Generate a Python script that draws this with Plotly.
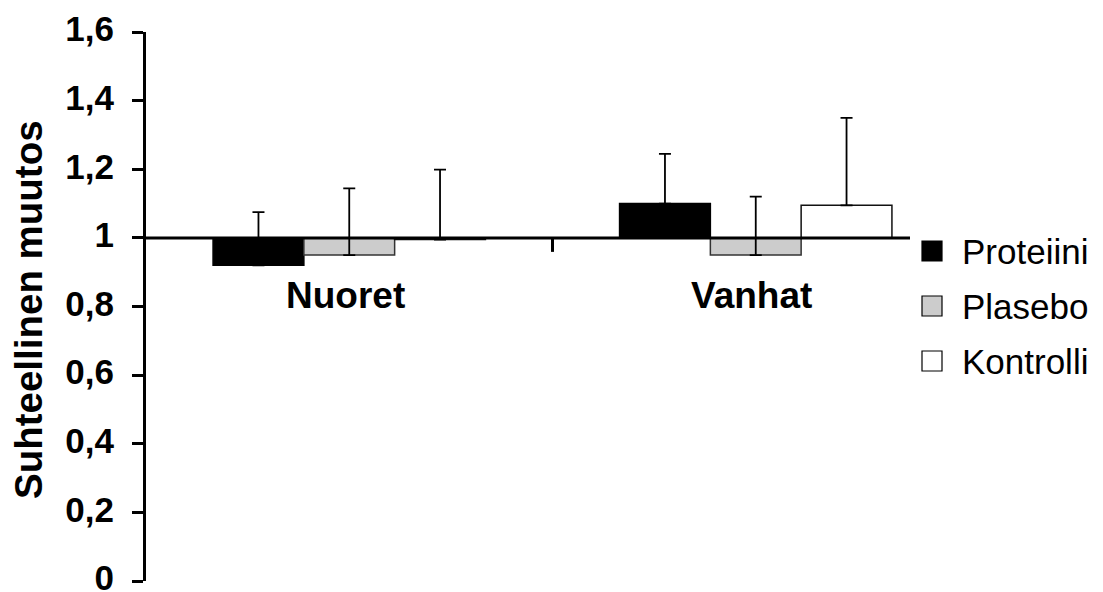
import plotly.graph_objects as go

categories = ["Nuoret", "Vanhat"]
series_names = ["Proteiini", "Plasebo", "Kontrolli"]
values = {
    "Proteiini": [0.92, 1.10],
    "Plasebo": [0.95, 0.95],
    "Kontrolli": [0.995, 1.095],
}
errors_plus = {
    "Proteiini": [0.155, 0.145],
    "Plasebo": [0.194, 0.17],
    "Kontrolli": [0.204, 0.255],
}
fill_colors = {"Proteiini": "#000000", "Plasebo": "#CCCCCC", "Kontrolli": "#FFFFFF"}
line_colors = {"Proteiini": "#000000", "Plasebo": "#333333", "Kontrolli": "#111111"}
y_tickvals = [0, 0.2, 0.4, 0.6, 0.8, 1.0, 1.2, 1.4, 1.6]
y_ticktext = ["0", "0,2", "0,4", "0,6", "0,8", "1", "1,2", "1,4", "1,6"]
baseline = 1.0

W, H = 1103, 592
ML, MR, MT, MB = 146, 144, 32, 11
PW, PH = W - ML - MR, H - MT - MB

def px_x(px):
    return (px - ML) / PW

def px_y(py):
    return (H - MB - py) / PH

FONT = "Liberation Sans, Arial, sans-serif"

fig = go.Figure()
for name in series_names:
    fig.add_trace(go.Bar(
        x=categories,
        y=[v - baseline for v in values[name]],
        base=[baseline] * len(categories),
        name=name,
        marker=dict(color=fill_colors[name], line=dict(color=line_colors[name], width=1.5)),
        error_y=dict(type="data", symmetric=False, array=errors_plus[name],
                     arrayminus=[0] * len(categories),
                     color="black", thickness=1.8, width=6),
        showlegend=False,
    ))

shapes = []
# horizontal axis line at y = 1
shapes.append(dict(type="line", xref="paper", yref="y", x0=0, x1=px_x(910), y0=baseline, y1=baseline,
                   line=dict(color="black", width=3), layer="above"))
# category divider tick
shapes.append(dict(type="line", xref="x", yref="y", ysizemode="pixel", yanchor=baseline,
                   x0=0.5, x1=0.5, y0=0, y1=-14, line=dict(color="black", width=3), layer="above"))

annotations = []
for cat in categories:
    annotations.append(dict(x=cat, y=baseline, xref="x", yref="y", text="<b>%s</b>" % cat,
                            showarrow=False, yanchor="middle", yshift=-58, xshift=-4,
                            font=dict(family=FONT, size=37, color="black")))
annotations.append(dict(x=px_x(28), y=px_y(310), xref="paper", yref="paper",
                        text="<b>Suhteellinen muutos</b>", textangle=-90, showarrow=False,
                        xanchor="center", yanchor="middle",
                        font=dict(family=FONT, size=38.5, color="black")))

# legend (manual, to match large symbol squares)
legend_rows = [251, 306, 361]
for name, cy in zip(series_names, legend_rows):
    shapes.append(dict(type="rect", xref="paper", yref="paper",
                       x0=px_x(922), x1=px_x(942), y0=px_y(cy + 10), y1=px_y(cy - 10),
                       fillcolor=fill_colors[name], line=dict(color="black", width=1.2)))
    annotations.append(dict(x=px_x(960), y=px_y(cy), xref="paper", yref="paper", text=name,
                            showarrow=False, xanchor="left", yanchor="middle",
                            font=dict(family=FONT, size=35, color="black")))

fig.update_layout(
    width=W, height=H,
    margin=dict(l=ML, r=MR, t=MT, b=MB, pad=0, autoexpand=False),
    plot_bgcolor="white", paper_bgcolor="white",
    barmode="group", bargap=0.33, bargroupgap=0,
    showlegend=False,
    xaxis=dict(range=[-0.5, 1.5], showticklabels=False, showline=False, ticks="",
               showgrid=False, zeroline=False, automargin=False),
    yaxis=dict(range=[0, 1.6], tickmode="array", tickvals=y_tickvals, ticktext=y_ticktext,
               showline=True, linecolor="black", linewidth=3, ticks="outside", ticklen=11,
               tickwidth=3, tickcolor="black", showgrid=False, zeroline=False,
               automargin=False,
               ticklabelstandoff=11, ticklabeloverflow="allow", ticklabelshift=-3,
               tickfont=dict(family=FONT, size=35, color="black", weight="bold")),
    shapes=shapes, annotations=annotations,
)

fig.write_html("out.html")
